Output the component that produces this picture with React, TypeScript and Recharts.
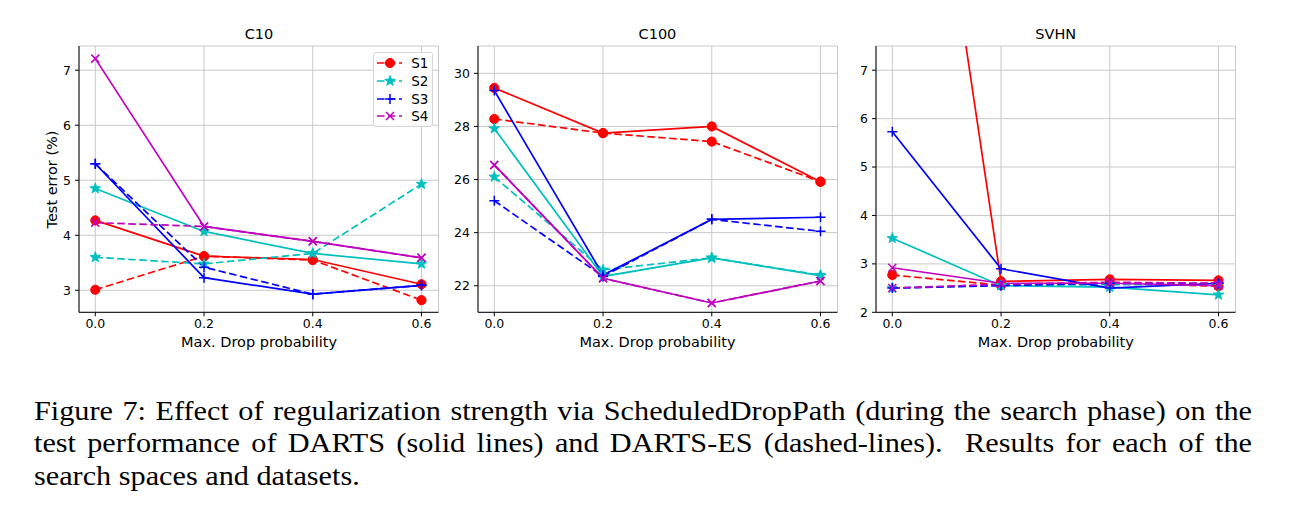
import React from 'react';
import { LineChart, Line, XAxis, YAxis, CartesianGrid } from 'recharts';

// ---------- data ----------
const dropProb = [0, 0.2, 0.4, 0.6];
const xTicks = [0, 0.2, 0.4, 0.6];
const seriesNames = ['S1', 'S2', 'S3', 'S4'];

// C10 (solid = DARTS, Es = DARTS-ES dashed)
const c10S1 = [4.27, 3.62, 3.56, 3.11];
const c10S1Es = [3.01, 3.62, 3.55, 2.82];
const c10S2 = [4.85, 4.07, 3.67, 3.48];
const c10S2Es = [3.6, 3.48, 3.67, 4.93];
const c10S3 = [5.3, 3.23, 2.93, 3.09];
const c10S3Es = [5.3, 3.42, 2.93, 3.09];
const c10S4 = [7.21, 4.16, 3.89, 3.59];
const c10S4Es = [4.23, 4.16, 3.89, 3.59];
const c10Ticks = [3, 4, 5, 6, 7];

// C100
const c100S1 = [29.45, 27.75, 28.0, 25.92];
const c100S1Es = [28.28, 27.75, 27.43, 25.92];
const c100S2 = [27.92, 22.35, 23.05, 22.38];
const c100S2Es = [26.1, 22.6, 23.05, 22.4];
const c100S3 = [29.35, 22.4, 24.5, 24.58];
const c100S3Es = [25.2, 22.35, 24.5, 24.05];
const c100S4 = [26.55, 22.28, 21.35, 22.18];
const c100S4Es = [26.55, 22.28, 21.35, 22.18];
const c100Ticks = [22, 24, 26, 28, 30];

// SVHN
const svhnS1 = [17.7, 2.64, 2.68, 2.66];
const svhnS1Es = [2.77, 2.56, 2.6, 2.54];
const svhnS2 = [3.53, 2.55, 2.52, 2.36];
const svhnS2Es = [2.5, 2.56, 2.57, 2.57];
const svhnS3 = [5.73, 2.9, 2.5, 2.6];
const svhnS3Es = [2.5, 2.55, 2.6, 2.6];
const svhnS4 = [2.92, 2.6, 2.6, 2.55];
const svhnS4Es = [2.5, 2.58, 2.62, 2.6];
const svhnTicks = [2, 3, 4, 5, 6, 7];

const buildRows = (solid: number[][], dashed: number[][]) =>
  dropProb.map((x, i) => {
    const row: any = { x };
    seriesNames.forEach((n, k) => {
      row[n] = solid[k][i];
      row[n + 'es'] = dashed[k][i];
    });
    return row;
  });

const c10Data = buildRows([c10S1, c10S2, c10S3, c10S4], [c10S1Es, c10S2Es, c10S3Es, c10S4Es]);
const c100Data = buildRows([c100S1, c100S2, c100S3, c100S4], [c100S1Es, c100S2Es, c100S3Es, c100S4Es]);
const svhnData = buildRows([svhnS1, svhnS2, svhnS3, svhnS4], [svhnS1Es, svhnS2Es, svhnS3Es, svhnS4Es]);

// ---------- styles ----------
const FONT = '"DejaVu Sans", Verdana, sans-serif';
const COLORS = ['#ff0000', '#00bfbf', '#0000ff', '#bf00bf'];
const SHAPES = ['circle', 'star', 'plus', 'x'];
const PLOT_W = 359.5;
const PLOT_TOP = 46;
const PLOT_H = 266.3;
const YAX_W = 40;
const XAX_H = 30;
const RIGHT_M = 4;
const LABEL_SIZE = 14.5;
const TICK_SIZE = 12.5;
const LINE_W = 1.7;
const DASH = '7.5 3.5';

const starPoints = (cx: number, cy: number, R: number) => {
  const pts: string[] = [];
  for (let i = 0; i < 10; i++) {
    const r = i % 2 === 0 ? R : R * 0.42;
    const a = -Math.PI / 2 + (i * Math.PI) / 5;
    pts.push(`${cx + r * Math.cos(a)},${cy + r * Math.sin(a)}`);
  }
  return pts.join(' ');
};

const Marker = ({ shape, color, cx, cy }: any) => {
  if (shape === 'circle') return <circle cx={cx} cy={cy} r={4.6} fill={color} stroke={color} strokeWidth={1} />;
  if (shape === 'star') return <polygon points={starPoints(cx, cy, 5.6)} fill={color} stroke={color} strokeWidth={0.8} />;
  if (shape === 'plus')
    return <path d={`M${cx - 5},${cy}H${cx + 5}M${cx},${cy - 5}V${cy + 5}`} stroke={color} strokeWidth={1.5} fill="none" />;
  return (
    <path
      d={`M${cx - 4},${cy - 4}L${cx + 4},${cy + 4}M${cx - 4},${cy + 4}L${cx + 4},${cy - 4}`}
      stroke={color}
      strokeWidth={1.5}
      fill="none"
    />
  );
};

const makeDot = (shape: string, color: string) => (p: any) => {
  const { cx, cy, index } = p;
  if (cx == null || cy == null || isNaN(cy)) return <g key={`e${index}`} />;
  return <Marker key={`m${index}`} shape={shape} color={color} cx={cx} cy={cy} />;
};

const LegendBox = ({ left, top }: any) => (
  <div
    style={{
      position: 'absolute',
      left,
      top,
      border: '1px solid #d6d6d6',
      borderRadius: 3,
      background: 'rgba(255,255,255,0.85)',
      padding: '1px 4px 1px 3px',
      width: 51,
      fontFamily: FONT,
      fontSize: 13.5,
      color: '#000',
    }}
  >
    {seriesNames.map((n, k) => (
      <div key={n} style={{ height: 17.7, display: 'flex', alignItems: 'center' }}>
        <svg width={26} height={14} style={{ display: 'block' }}>
          <line x1={0} y1={7} x2={26} y2={7} stroke={COLORS[k]} strokeWidth={LINE_W} strokeDasharray={DASH} />
          <Marker shape={SHAPES[k]} color={COLORS[k]} cx={13} cy={7} />
        </svg>
        <span style={{ marginLeft: 9, lineHeight: '14px' }}>{n}</span>
      </div>
    ))}
  </div>
);

const Panel = ({ title, plotLeft, data, domain, ticks }: any) => {
  const chartLeft = plotLeft - YAX_W;
  const width = YAX_W + PLOT_W + RIGHT_M;
  const height = PLOT_TOP + PLOT_H + XAX_H;
  const tickStyle = { fill: '#000', fontSize: TICK_SIZE, fontFamily: FONT };
  return (
    <>
      <div
        style={{
          position: 'absolute',
          left: plotLeft,
          width: PLOT_W,
          top: 26,
          textAlign: 'center',
          fontFamily: FONT,
          fontSize: LABEL_SIZE,
          lineHeight: '17px',
          color: '#000',
        }}
      >
        {title}
      </div>
      <div style={{ position: 'absolute', left: chartLeft, top: 0 }}>
        <LineChart width={width} height={height} data={data} margin={{ top: PLOT_TOP, right: RIGHT_M, bottom: 0, left: 0 }}>
          <CartesianGrid stroke="#c9c9c9" strokeWidth={1} />
          <XAxis
            dataKey="x"
            type="number"
            domain={[-0.03, 0.6313]}
            ticks={xTicks}
            allowDataOverflow
            tickFormatter={(v: number) => v.toFixed(1)}
            tick={tickStyle}
            tickSize={4}
            tickMargin={3}
            height={XAX_H}
            axisLine={{ stroke: '#000' }}
            tickLine={{ stroke: '#000' }}
          />
          <XAxis xAxisId="top" orientation="top" type="number" domain={[0, 1]} tick={false} tickLine={false} height={0} axisLine={{ stroke: '#000' }} />
          <YAxis
            type="number"
            domain={domain}
            ticks={ticks}
            allowDataOverflow
            tick={tickStyle}
            tickSize={4}
            tickMargin={4}
            width={YAX_W}
            axisLine={{ stroke: '#000' }}
            tickLine={{ stroke: '#000' }}
          />
          <YAxis yAxisId="right" orientation="right" type="number" domain={[0, 1]} tick={false} tickLine={false} width={0} axisLine={{ stroke: '#000' }} />
          {seriesNames.map((n, k) => [
            <Line
              key={n}
              dataKey={n}
              type="linear"
              stroke={COLORS[k]}
              strokeWidth={LINE_W}
              dot={makeDot(SHAPES[k], COLORS[k])}
              activeDot={false}
              legendType="none"
              isAnimationActive={false}
            />,
            <Line
              key={n + 'es'}
              dataKey={n + 'es'}
              name={n}
              type="linear"
              stroke={COLORS[k]}
              strokeWidth={LINE_W}
              strokeDasharray={DASH}
              dot={makeDot(SHAPES[k], COLORS[k])}
              activeDot={false}
              isAnimationActive={false}
            />,
          ])}
        </LineChart>
      </div>
      <div
        style={{
          position: 'absolute',
          left: plotLeft,
          width: PLOT_W,
          top: 334,
          textAlign: 'center',
          fontFamily: FONT,
          fontSize: LABEL_SIZE,
          lineHeight: '17px',
          color: '#000',
        }}
      >
        Max. Drop probability
      </div>
    </>
  );
};

const CAP_SCALE = 1.12;
const CAP_W = 1218;

const captionLine: React.CSSProperties = {
  height: 32.5,
  lineHeight: '32.5px',
  whiteSpace: 'nowrap',
};

export default function App() {
  return (
    <div style={{ position: 'absolute', left: 0, top: 0, width: 1312, height: 510, background: '#fff', overflow: 'hidden' }}>
      <Panel title="C10" plotLeft={79.3} data={c10Data} domain={[2.6, 7.44]} ticks={c10Ticks} />
      <Panel title="C100" plotLeft={477.7} data={c100Data} domain={[21.0, 31.03]} ticks={c100Ticks} />
      <Panel title="SVHN" plotLeft={876} data={svhnData} domain={[2, 7.5]} ticks={svhnTicks} />
      <LegendBox left={373.3} top={52.3} />
      <div
        style={{
          position: 'absolute',
          left: 52 - 90,
          top: 179 - 8.5,
          width: 180,
          height: 17,
          lineHeight: '17px',
          textAlign: 'center',
          transform: 'rotate(-90deg)',
          fontFamily: FONT,
          fontSize: LABEL_SIZE,
          color: '#000',
        }}
      >
        Test error (%)
      </div>
      <div
        style={{
          position: 'absolute',
          left: 34,
          top: 394.5,
          width: CAP_W / CAP_SCALE,
          transform: `scaleX(${CAP_SCALE})`,
          transformOrigin: '0 0',
          fontFamily: '"Liberation Serif", "Times New Roman", serif',
          fontSize: 27,
          color: '#000',
        }}
      >
        <div style={{ ...captionLine, whiteSpace: 'normal', textAlign: 'justify', textAlignLast: 'justify' }}>
          Figure 7: Effect of regularization strength via ScheduledDropPath (during the search phase) on the
        </div>
        <div style={{ ...captionLine, whiteSpace: 'normal', textAlign: 'justify', textAlignLast: 'justify' }}>
          test performance of DARTS (solid lines) and DARTS-ES (dashed-lines).&nbsp; Results for each of the
        </div>
        <div style={captionLine}>search spaces and datasets.</div>
      </div>
    </div>
  );
}
